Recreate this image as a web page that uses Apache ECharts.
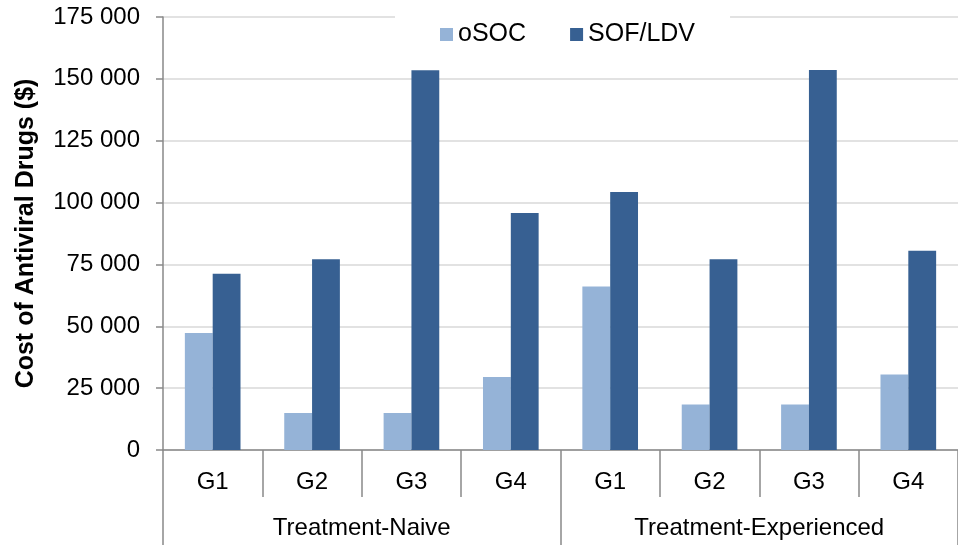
<!DOCTYPE html>
<html>
<head>
<meta charset="utf-8">
<script src="https://cdn.jsdelivr.net/npm/echarts@6/dist/echarts.min.js"></script>
<style>
  html, body { margin: 0; padding: 0; background: #fff; }
  #chart { width: 958px; height: 550px; }
</style>
</head>
<body>
<div id="chart"></div>
<script>
const categories = ['G1', 'G2', 'G3', 'G4', 'G1', 'G2', 'G3', 'G4'];
const groups = ['Treatment-Naive', 'Treatment-Experienced'];
const seriesNames = ['oSOC', 'SOF/LDV'];
const osoc = [47300, 15000, 15000, 29500, 66100, 18400, 18400, 30500];
const sofldv = [71200, 77100, 153500, 95800, 104300, 77100, 153600, 80500];
const yMin = 0, yMax = 175000, yStep = 25000;
const yTitle = 'Cost of Antiviral Drugs ($)';

const FONT = '"Liberation Sans", Arial, sans-serif';
const AXIS_GRAY = '#898989';

function fmt(v) {
  return String(v).replace(/\B(?=(\d{3})+(?!\d))/g, ' ');
}

const chart = echarts.init(document.getElementById('chart'), null, { renderer: 'canvas' });
chart.setOption({
  animation: false,
  backgroundColor: '#fff',
  textStyle: { fontFamily: FONT },
  grid: { left: 163, right: -10, top: 17, bottom: 100, containLabel: false },
  legend: {
    data: seriesNames,
    left: 395,
    top: 0,
    padding: [22, 35, 12, 45],
    itemGap: 44,
    itemWidth: 13,
    itemHeight: 13,
    icon: 'rect',
    backgroundColor: '#fff',
    textStyle: { fontSize: 25, color: '#000', fontFamily: FONT }
  },
  xAxis: [
    {
      type: 'category',
      data: categories,
      position: 'bottom',
      axisLine: { show: true, lineStyle: { color: AXIS_GRAY, width: 1.5 } },
      axisTick: { show: true, length: 47, interval: 0, lineStyle: { color: AXIS_GRAY, width: 1.5 } },
      axisLabel: { interval: 0, margin: 20, fontSize: 24, color: '#000', fontFamily: FONT },
      splitLine: { show: false }
    },
    {
      type: 'category',
      data: groups,
      position: 'bottom',
      axisLine: { show: false },
      axisTick: { show: true, length: 95, interval: 0, lineStyle: { color: AXIS_GRAY, width: 1.5 } },
      axisLabel: { interval: 0, margin: 66, fontSize: 24, color: '#000', fontFamily: FONT },
      splitLine: { show: false }
    }
  ],
  yAxis: {
    type: 'value',
    min: yMin,
    max: yMax,
    interval: yStep,
    name: yTitle,
    nameLocation: 'middle',
    nameGap: 124,
    nameTextStyle: { fontSize: 25, fontWeight: 'bold', color: '#000', fontFamily: FONT },
    axisLine: { show: true, lineStyle: { color: AXIS_GRAY, width: 1.5 } },
    axisTick: { show: true, length: 7, lineStyle: { color: AXIS_GRAY, width: 1.5 } },
    axisLabel: { margin: 23, fontSize: 24, color: '#000', fontFamily: FONT, formatter: fmt },
    splitLine: { show: true, lineStyle: { color: '#D9D9D9', width: 1.5 } }
  },
  series: [
    {
      name: seriesNames[0],
      type: 'bar',
      data: osoc,
      barGap: '0%',
      barCategoryGap: '44%',
      itemStyle: { color: '#95B3D7' }
    },
    {
      name: seriesNames[1],
      type: 'bar',
      data: sofldv,
      barGap: '0%',
      barCategoryGap: '44%',
      itemStyle: { color: '#376092' }
    }
  ]
});
</script>
</body>
</html>
